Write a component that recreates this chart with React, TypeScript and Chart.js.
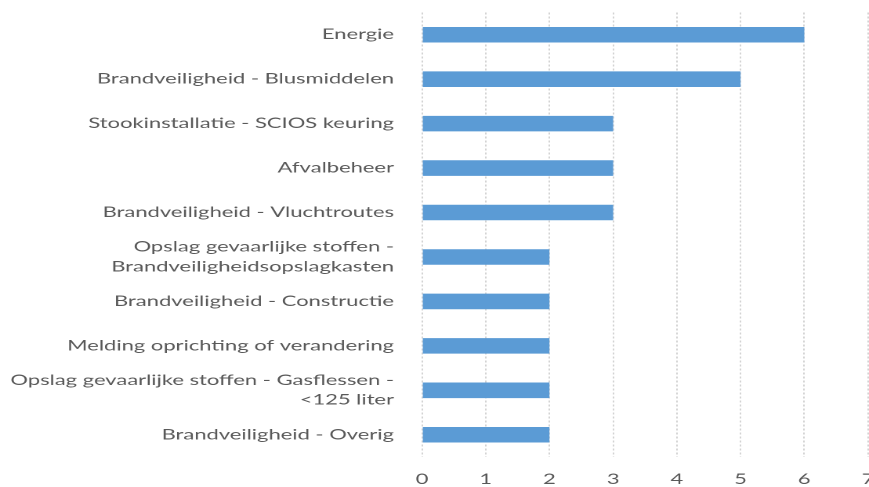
import React, { useEffect, useRef } from "react";
import { Chart, registerables } from "chart.js";

Chart.register(...registerables);

const categories: (string | string[])[] = [
  "Energie",
  "Brandveiligheid - Blusmiddelen",
  "Stookinstallatie - SCIOS keuring",
  "Afvalbeheer",
  "Brandveiligheid - Vluchtroutes",
  ["Opslag gevaarlijke stoffen -", "Brandveiligheidsopslagkasten"],
  "Brandveiligheid - Constructie",
  "Melding oprichting of verandering",
  ["Opslag gevaarlijke stoffen - Gasflessen -", "<125 liter"],
  "Brandveiligheid - Overig",
];
const values: number[] = [6, 5, 3, 3, 3, 2, 2, 2, 2, 2];
const xTicks: number[] = [0, 1, 2, 3, 4, 5, 6, 7];

const FONT = "Lato";
const FONT_SIZE = 14;

function stretchFactor(): number {
  const c = document.createElement("canvas").getContext("2d")!;
  c.font = `${FONT_SIZE}px ${FONT}`;
  const w = c.measureText("Brandveiligheid - Blusmiddelen").width;
  return w > 0 ? 297 / w : 1.45;
}

export default function App() {
  const ref = useRef<HTMLCanvasElement>(null);
  const S = stretchFactor();
  const W = Math.round(880 / S);
  useEffect(() => {
    document.body.style.margin = "0";
    const ctx = ref.current!;
    const chart = new Chart(ctx, {
      type: "bar",
      data: {
        labels: categories,
        datasets: [
          {
            data: values,
            backgroundColor: "#5B9BD5",
            borderWidth: 0,
            barPercentage: 0.7,
            categoryPercentage: 0.5,
          },
        ],
      },
      options: {
        indexAxis: "y",
        animation: false,
        responsive: false,
        devicePixelRatio: 2,
        layout: { padding: { top: 12.5, right: W - 868 / S, left: 0, bottom: 0 } },
        plugins: { legend: { display: false }, tooltip: { enabled: false } },
        scales: {
          x: {
            min: 0,
            max: 7,
            afterBuildTicks: (s: any) => {
              s.ticks = xTicks.map((v) => ({ value: v }));
            },
            afterFit: (s: any) => {
              s.height = 30;
              s.paddingLeft = 0;
              s.paddingRight = 0;
            },
            grid: {
              color: "#d3d3d3",
              lineWidth: 1,
              drawTicks: false,
            },
            border: { display: false, dash: [2, 2] },
            ticks: {
              color: "#595959",
              font: { family: FONT, size: FONT_SIZE },
              padding: 14,
            },
          },
          y: {
            grid: { display: false, drawTicks: false },
            border: { display: false },
            afterFit: (s: any) => {
              s.width = 422 / S;
              s.paddingTop = 0;
              s.paddingBottom = 0;
            },
            ticks: {
              color: "#595959",
              font: { family: FONT, size: FONT_SIZE, lineHeight: 1.4 },
              padding: 28 / S,
              autoSkip: false,
            },
          },
        },
      },
    });
    return () => chart.destroy();
  }, []);
  return (
    <div style={{ width: 869, height: 487, overflow: "hidden", position: "relative" }}>
      <canvas
        ref={ref}
        width={W}
        height={487}
        style={{ display: "block", transform: `scaleX(${S})`, transformOrigin: "0 0" }}
      />
    </div>
  );
}
